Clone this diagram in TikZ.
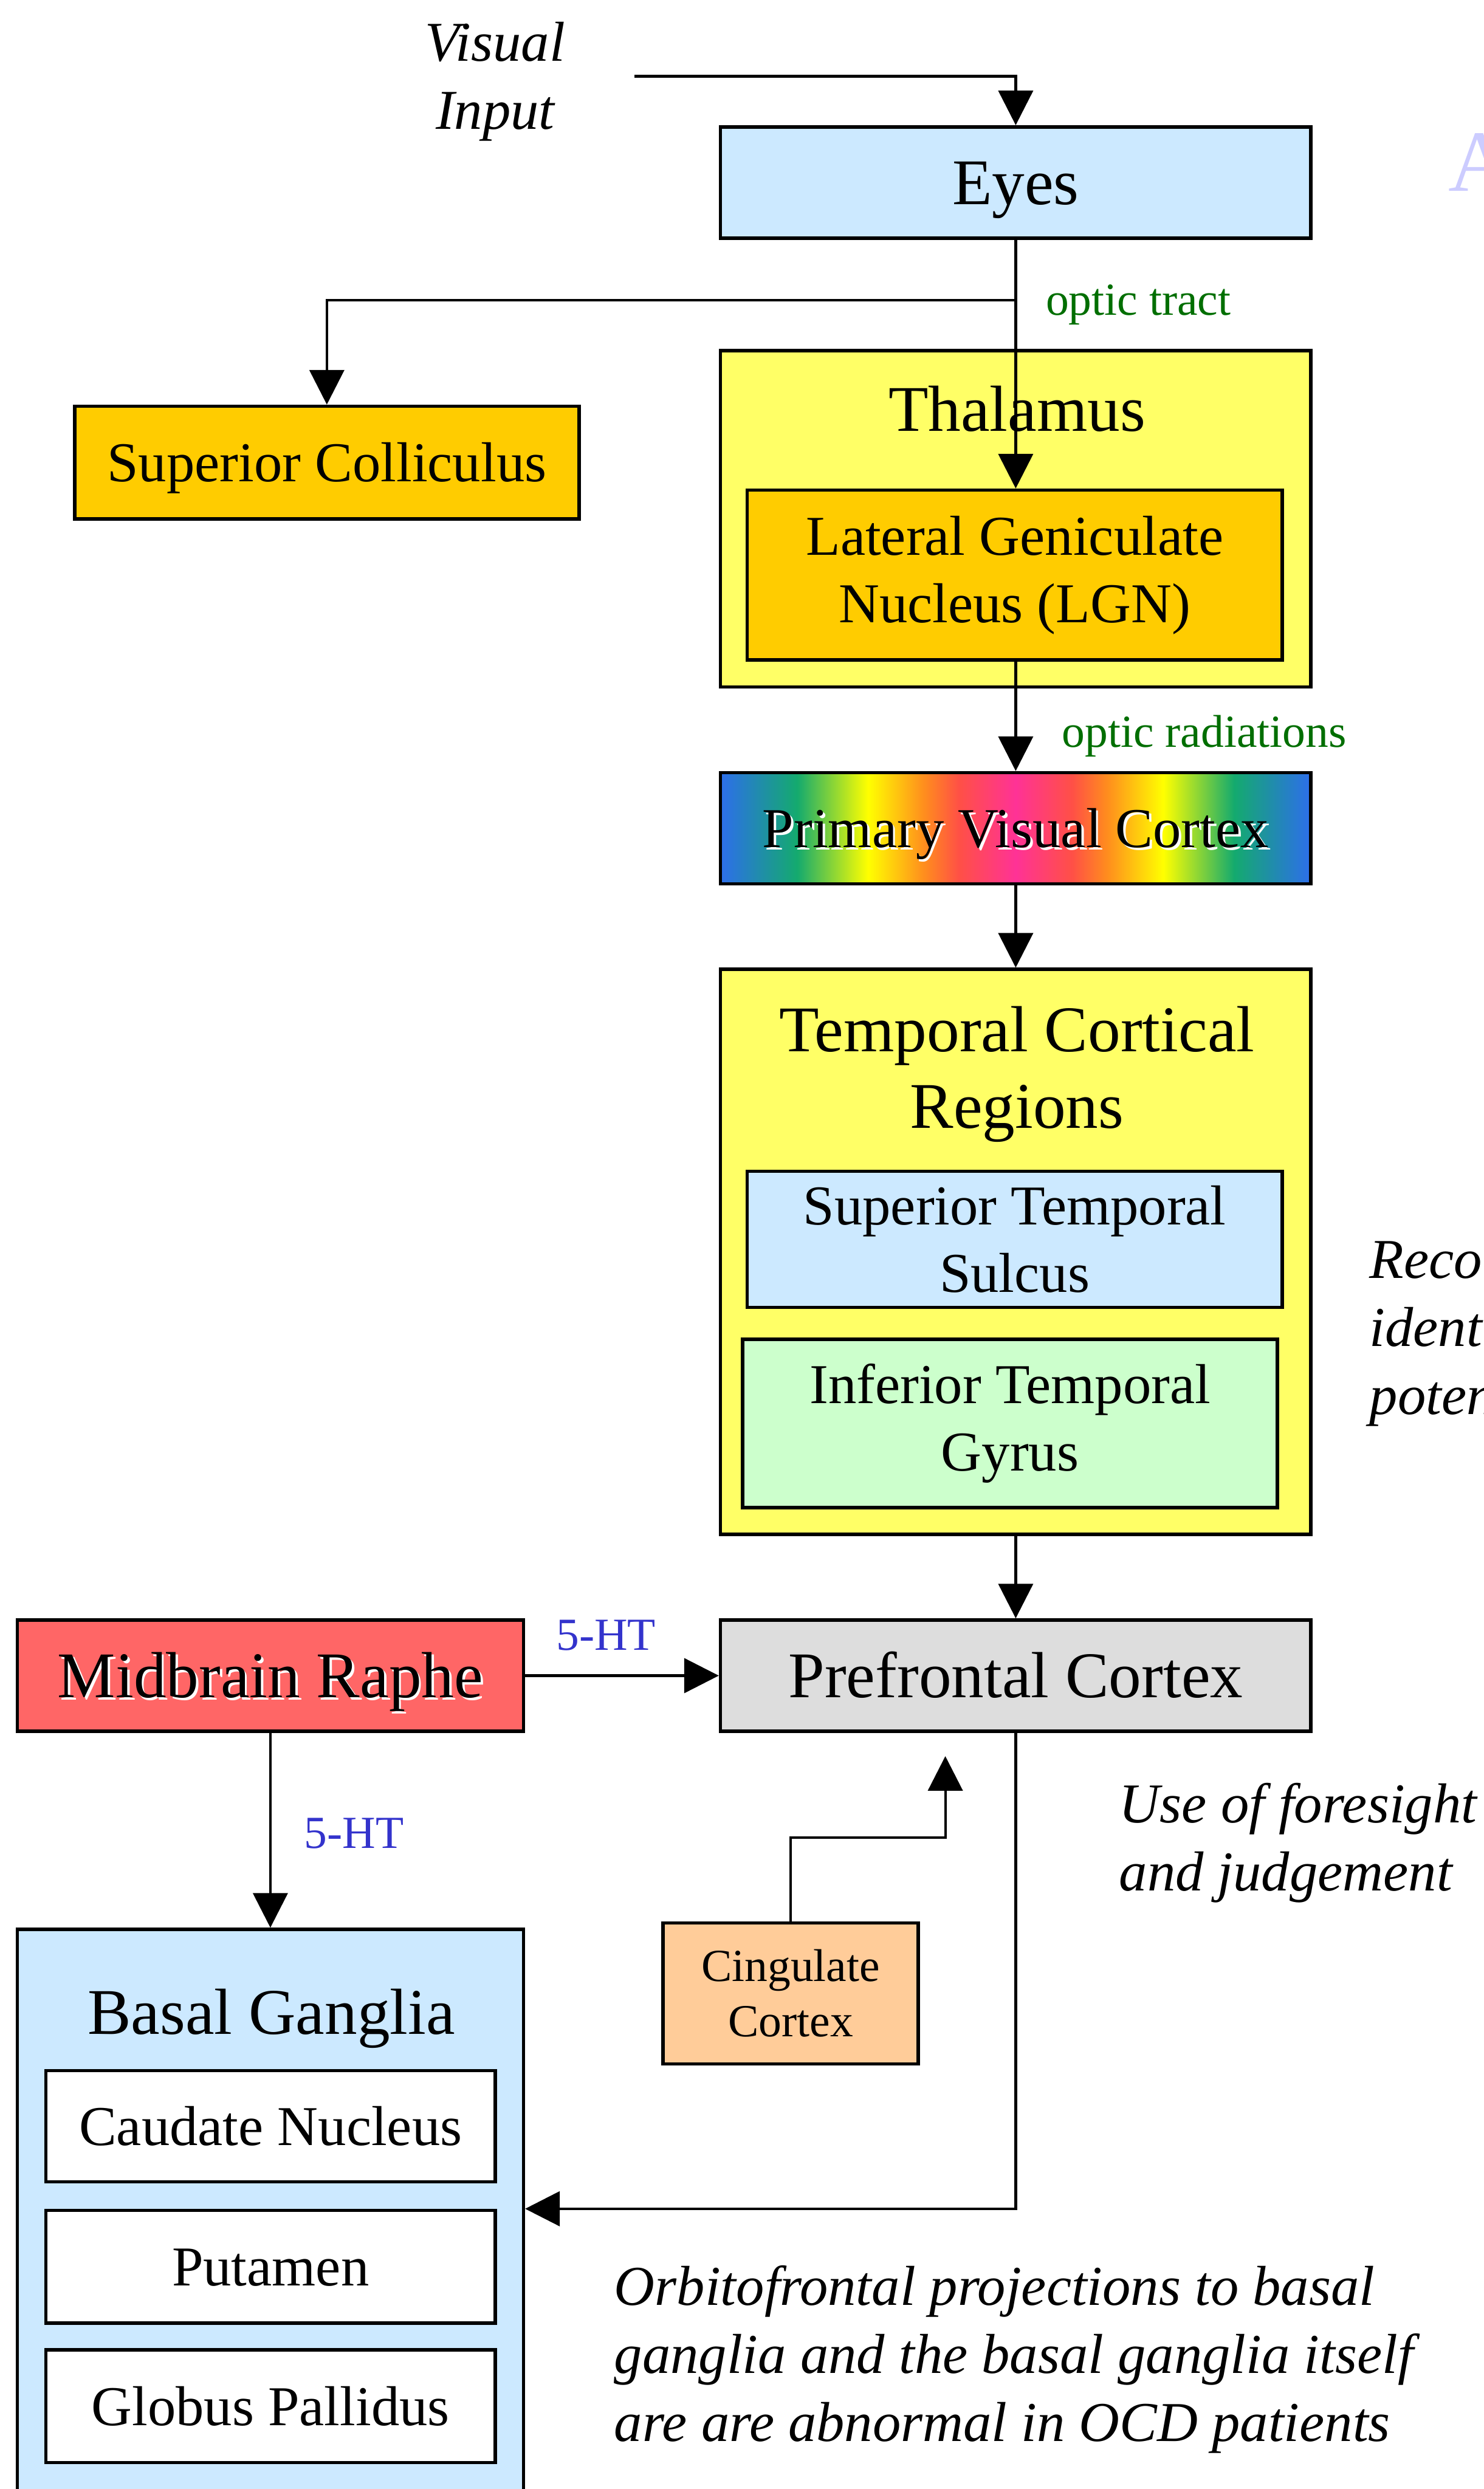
\documentclass[tikz,border=0pt]{standalone}
\usepackage{fontspec}
\setmainfont{Liberation Serif}
\usepackage{tikz}
\usetikzlibrary{arrows.meta}
\definecolor{skyfill}{RGB}{204,233,255}
\definecolor{lemonfill}{RGB}{255,255,102}
\definecolor{goldfill}{RGB}{255,204,0}
\definecolor{mintfill}{RGB}{204,255,204}
\definecolor{greyfill}{RGB}{221,221,221}
\definecolor{raphefill}{RGB}{255,102,102}
\definecolor{peachfill}{RGB}{255,204,153}
\definecolor{tractgreen}{RGB}{0,110,0}
\definecolor{htblue}{RGB}{51,51,204}
\definecolor{lavender}{RGB}{204,204,255}
\definecolor{rbblue}{RGB}{45,110,235}
\definecolor{rbgreen}{RGB}{20,170,110}
\definecolor{rbyellow}{RGB}{255,255,0}
\definecolor{rborange}{RGB}{255,140,30}
\definecolor{rbred}{RGB}{255,80,70}
\definecolor{rbpink}{RGB}{255,50,150}
\pgfdeclarehorizontalshading{rainbow}{100bp}{color(0bp)=(rbblue); color(25bp)=(rbblue); color(31.5bp)=(rbgreen); color(37.5bp)=(rbyellow); color(42.3bp)=(rborange); color(45.2bp)=(rbred); color(50bp)=(rbpink); color(54.8bp)=(rbred); color(57.7bp)=(rborange); color(62.5bp)=(rbyellow); color(68.5bp)=(rbgreen); color(75bp)=(rbblue); color(100bp)=(rbblue)}
\newcommand{\shadetext}[1]{\makebox[0pt][l]{\hspace{1.6pt}\raisebox{-1.6pt}{\color{white}#1}}#1}

\begin{document}
\begin{tikzpicture}[
		box/.style={draw, line width=0.08cm, inner sep=0pt, minimum width=14.01cm, minimum height=2.64cm},
		inbox/.style={box, minimum width=12.69cm, align=center},
		titlefont/.style={font=\fontsize{44}{51.5}\selectfont},
		bodyfont/.style={font=\fontsize{38}{45.5}\selectfont},
		smallfont/.style={font=\fontsize{31}{37.5}\selectfont},
		onetitle/.style={titlefont, text height=29.9pt, text depth=0pt},
		onebody/.style={bodyfont, text height=25.8pt, text depth=0pt},
		note/.style={font=\fontsize{38}{46}\selectfont\itshape, inner sep=0pt},
		link/.style={line width=0.06cm, -{Triangle[width=0.82cm, length=0.82cm]}}
	]
				% Boxes, notes and arrows:
				\useasboundingbox (0,0) rectangle (35.2,-59.06);
				\node[box, onetitle, fill=skyfill] (eyes) at (24.10,-4.33) {Eyes};
				\node[box, onebody, fill=goldfill, minimum width=11.97cm, minimum height=2.67cm] (sc) at (7.755,-10.975) {Superior Colliculus};
				\node[box, fill=lemonfill, minimum height=7.98cm] (thal) at (24.10,-12.31) {};
				\node[onetitle] (thaltitle) at (24.13,-9.71) {Thalamus};
				\node[inbox, bodyfont, fill=goldfill, minimum height=4.03cm] (lgn) at (24.075,-13.645) {Lateral Geniculate\\Nucleus (LGN)};
				\node[box, onebody, shade, shading=rainbow] (pvc) at (24.10,-19.655) {\shadetext{Primary Visual Cortex}};
				\node[box, fill=lemonfill, minimum height=13.41cm] (tcr) at (24.10,-29.705) {};
				\node[titlefont, align=center] (tcrtitle) at (24.13,-25.49) {Temporal Cortical\\Regions};
				\node[inbox, bodyfont, fill=skyfill, minimum height=3.23cm] (sts) at (24.075,-29.405) {Superior Temporal\\Sulcus};
				\node[inbox, bodyfont, fill=mintfill, minimum height=3.99cm] (itg) at (23.965,-33.775) {Inferior Temporal\\Gyrus};
				\node[box, onetitle, fill=greyfill] (pfc) at (24.10,-39.76) {Prefrontal Cortex};
				\node[box, onetitle, fill=raphefill, minimum width=12.01cm] (mr) at (6.415,-39.76) {\shadetext{Midbrain Raphe}};
				\node[box, fill=skyfill, minimum width=12.01cm, minimum height=15cm] (bg) at (6.415,-53.28) {};
				\node[onetitle] (bgtitle) at (6.44,-47.74) {Basal Ganglia};
				\node[box, onebody, fill=white, minimum width=10.66cm] (caud) at (6.42,-50.45) {Caudate Nucleus};
				\node[box, onebody, fill=white, minimum width=10.66cm, minimum height=2.67cm] (put) at (6.42,-53.785) {Putamen};
				\node[box, onebody, fill=white, minimum width=10.66cm, minimum height=2.67cm] (glob) at (6.42,-57.095) {Globus Pallidus};
				\node[box, smallfont, align=center, fill=peachfill, minimum width=6.06cm, minimum height=3.35cm] (cing) at (18.76,-47.30) {Cingulate\\Cortex};
				\node[note, align=center] (vis) at (11.75,-1.94) {Visual\\Input};
				\node[note, align=left, anchor=west] (foresight) at (26.55,-43.73) {Use of foresight\\and judgement};
				\node[note, align=left, anchor=west] (orbito) at (14.57,-55.98) {Orbitofrontal projections to basal\\ganglia and the basal ganglia itself\\are are abnormal in OCD patients};
				\node[note, align=left, anchor=west] (reco) at (32.49,-31.65) {Reco\\ident\\poten};
				\node[smallfont, text=tractgreen, anchor=west, inner sep=0pt] (tract) at (24.81,-7.23) {optic tract};
				\node[smallfont, text=tractgreen, anchor=west, inner sep=0pt] (radiations) at (25.19,-17.47) {optic radiations};
				\node[smallfont, text=htblue] (htone) at (14.38,-38.80) {5-HT};
				\node[smallfont, text=htblue] (httwo) at (8.40,-43.51) {5-HT};
				\node[font=\fontsize{59}{60}\selectfont, text=lavender, anchor=base west, inner sep=0pt] (pagetitle) at (34.36,-4.53) {A};
				\coordinate (vin) at (15.06,-1.81);
				\coordinate (split) at (24.10,-7.12);
				\coordinate (back) at (24.10,-52.41);
				\coordinate (cbend) at (22.43,-43.60);
				\draw[link] (vin) -| (eyes.north);
				\draw[link] (eyes.south) -- (eyes.south |- lgn.north);
				\draw[link] (split) -| (sc.north);
				\draw[link] (pvc.north |- lgn.south) -- (pvc.north);
				\draw[link] (pvc.south) -- (tcr.north);
				\draw[link] (tcr.south) -- (pfc.north);
				\draw[link] (mr.east) -- (pfc.west);
				\draw[link] (mr.south) -- (bg.north);
				\draw[link] (pfc.south) -- (back) -- (back -| bg.east);
				\draw[link] (cing.north) |- (cbend) -- ([yshift=-0.55cm]pfc.south -| cbend);
\end{tikzpicture}
\end{document}
